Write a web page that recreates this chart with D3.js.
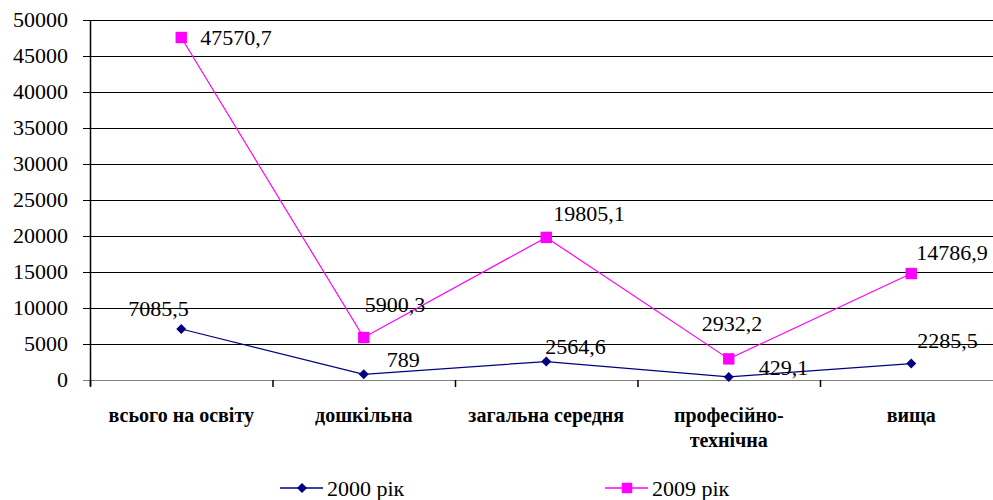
<!DOCTYPE html>
<html>
<head>
<meta charset="utf-8">
<script src="https://cdn.jsdelivr.net/npm/d3@7"></script>
<style>
  body { margin: 0; background: #fff; }
</style>
</head>
<body>
<svg id="chart" width="993" height="500"></svg>
<script>
const categories = [["всього на освіту"], ["дошкільна"], ["загальна середня"], ["професійно-", "технічна"], ["вища"]];
const series2000 = [7085.5, 789, 2564.6, 429.1, 2285.5];
const series2009 = [47570.7, 5900.3, 19805.1, 2932.2, 14786.9];
const yTicks = [0, 5000, 10000, 15000, 20000, 25000, 30000, 35000, 40000, 45000, 50000];
const seriesNames = ["2000 рік", "2009 рік"];

// label offsets relative to the point (dx = left edge, dy = baseline)
const off2000 = [[-53, -13], [23, -7], [-1, -8], [30, -2], [6, -16]];
const off2009 = [[19, 8], [1, -26], [7, -16], [-27, -28], [5, -14]];

const layout = { left: 90, top: 20, bottom: 380, band: 182.5 };
const serif = "'Liberation Serif', 'DejaVu Serif', serif";

const svg = d3.select("#chart");

const x = d3.scaleBand()
  .domain(d3.range(categories.length))
  .range([layout.left, layout.left + layout.band * categories.length])
  .padding(0);
const y = d3.scaleLinear().domain([0, 50000]).range([layout.bottom, layout.top]);
const cx = i => x(i) + x.bandwidth() / 2;

// gridlines
svg.append("g")
  .selectAll("line")
  .data(yTicks)
  .join("line")
  .attr("x1", layout.left - 7)
  .attr("x2", 993)
  .attr("y1", d => Math.round(y(d)) + 0.5)
  .attr("y2", d => Math.round(y(d)) + 0.5)
  .attr("stroke", d => d === 0 ? "#808080" : "#000")
  .attr("stroke-width", 1.2);

// y axis line
svg.append("line")
  .attr("x1", layout.left + 0.5).attr("x2", layout.left + 0.5)
  .attr("y1", layout.top).attr("y2", layout.bottom + 6)
  .attr("stroke", "#000").attr("stroke-width", 1.5);

// category ticks
svg.append("g")
  .selectAll("line")
  .data(d3.range(categories.length))
  .join("line")
  .attr("x1", d => x(d) + 0.5).attr("x2", d => x(d) + 0.5)
  .attr("y1", layout.bottom).attr("y2", layout.bottom + 7)
  .attr("stroke", "#000").attr("stroke-width", 1.5);

// y tick labels
svg.append("g")
  .selectAll("text")
  .data(yTicks)
  .join("text")
  .attr("x", 68)
  .attr("y", d => y(d) + 7)
  .attr("text-anchor", "end")
  .style("font-family", serif)
  .style("font-size", "22px")
  .text(d => d);

// category labels
const catG = svg.append("g")
  .selectAll("text")
  .data(categories)
  .join("text")
  .attr("x", (d, i) => cx(i))
  .attr("y", 422)
  .attr("text-anchor", "middle")
  .style("font-family", serif)
  .style("font-size", "20px")
  .style("font-weight", "bold");
catG.selectAll("tspan")
  .data(d => d)
  .join("tspan")
  .attr("x", function () { return d3.select(this.parentNode).attr("x"); })
  .attr("dy", (d, j) => j === 0 ? 0 : 25)
  .text(d => d);

const fmt = v => String(v).replace(".", ",");

function drawSeries(values, color, size, rot, offsets) {
  const line = d3.line().x((d, i) => cx(i)).y(d => y(d));
  svg.append("path")
    .datum(values)
    .attr("d", line)
    .attr("fill", "none")
    .attr("stroke", color)
    .attr("stroke-width", 1.2);
  svg.append("g")
    .selectAll("path")
    .data(values)
    .join("path")
    .attr("transform", (d, i) => `translate(${cx(i)},${y(d)}) rotate(${rot})`)
    .attr("d", d3.symbol().type(d3.symbolSquare).size(size))
    .attr("fill", color);
  svg.append("g")
    .selectAll("text")
    .data(values)
    .join("text")
    .attr("x", (d, i) => cx(i) + offsets[i][0])
    .attr("y", (d, i) => y(d) + offsets[i][1])
    .style("font-family", serif)
    .style("font-size", "22px")
    .text(d => fmt(d));
}

drawSeries(series2000, "#000080", 50, 45, off2000);
drawSeries(series2009, "#ff00ff", 130, 0, off2009);

// legend
const legend = [
  { name: seriesNames[0], color: "#000080", size: 50, rot: 45, x: 280 },
  { name: seriesNames[1], color: "#ff00ff", size: 110, rot: 0, x: 605 }
];
const lg = svg.append("g")
  .selectAll("g")
  .data(legend)
  .join("g")
  .attr("transform", d => `translate(${d.x},488)`);
lg.append("line")
  .attr("x1", 0).attr("x2", 43).attr("y1", 0).attr("y2", 0)
  .attr("stroke", d => d.color).attr("stroke-width", 1.5);
lg.append("path")
  .attr("transform", d => `translate(22,0) rotate(${d.rot})`)
  .attr("d", d => d3.symbol().type(d3.symbolSquare).size(d.size)())
  .attr("fill", d => d.color);
lg.append("text")
  .attr("x", 47).attr("y", 8)
  .style("font-family", serif)
  .style("font-size", "22px")
  .text(d => d.name);
</script>
</body>
</html>
